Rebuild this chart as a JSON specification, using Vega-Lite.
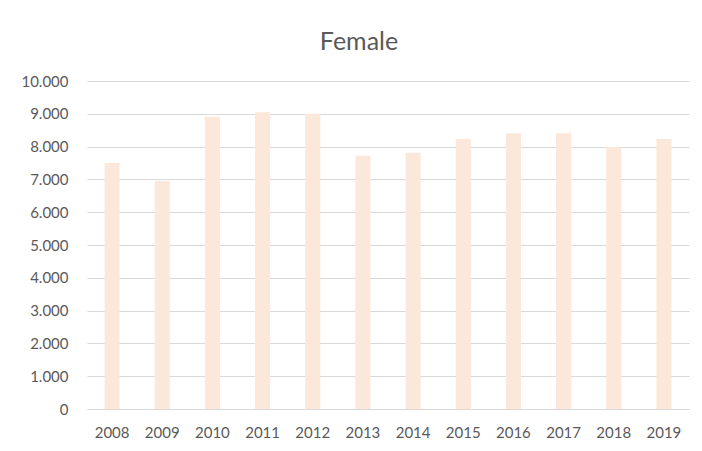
{
  "$schema": "https://vega.github.io/schema/vega-lite/v6.json",
  "autosize": {"type": "none"},
  "width": 602,
  "height": 328,
  "padding": {"left": 87, "top": 81, "right": 13, "bottom": 42},
  "background": "white",
  "title": {
    "text": "Female",
    "font": "Lato",
    "fontSize": 25,
    "fontWeight": "normal",
    "color": "#595959",
    "anchor": "middle",
    "frame": "group",
    "dx": -29,
    "offset": 19
  },
  "data": {
    "values": [
      {"year": "2008", "value": 7500},
      {"year": "2009", "value": 6950},
      {"year": "2010", "value": 8910},
      {"year": "2011", "value": 9050},
      {"year": "2012", "value": 9000},
      {"year": "2013", "value": 7720},
      {"year": "2014", "value": 7810},
      {"year": "2015", "value": 8230},
      {"year": "2016", "value": 8410},
      {"year": "2017", "value": 8410},
      {"year": "2018", "value": 7990},
      {"year": "2019", "value": 8230}
    ]
  },
  "mark": {"type": "bar", "color": "#FCE8DA"},
  "encoding": {
    "x": {
      "field": "year",
      "type": "nominal",
      "scale": {"paddingInner": 0.7, "paddingOuter": 0.35},
      "axis": {
        "title": null,
        "labelAngle": 0,
        "labelFont": "Lato",
        "labelFontSize": 15,
        "labelColor": "#595959",
        "ticks": false,
        "domainColor": "#D9D9D9",
        "domainWidth": 1,
        "labelPadding": 16
      }
    },
    "y": {
      "field": "value",
      "type": "quantitative",
      "scale": {"domain": [0, 10000], "nice": false},
      "axis": {
        "title": null,
        "values": [0, 1000, 2000, 3000, 4000, 5000, 6000, 7000, 8000, 9000, 10000],
        "labelExpr": "replace(format(datum.value, ','), ',', '.')",
        "labelFont": "Lato",
        "labelFontSize": 15,
        "labelColor": "#595959",
        "labelPadding": 19,
        "ticks": false,
        "domain": false,
        "gridColor": "#D9D9D9",
        "gridWidth": 1
      }
    }
  },
  "config": {"view": {"stroke": null}}
}
